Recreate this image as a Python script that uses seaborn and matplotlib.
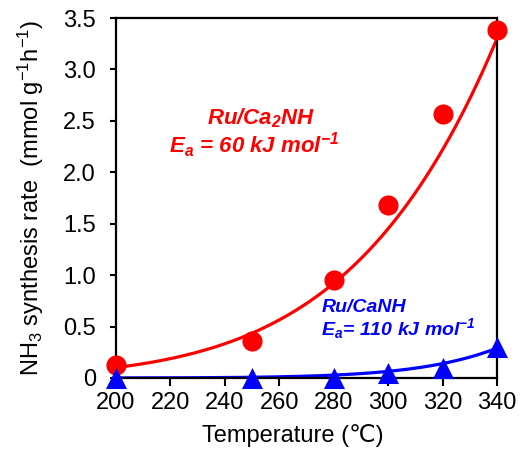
import numpy as np
import pandas as pd
import matplotlib
matplotlib.use("Agg")
import matplotlib.pyplot as plt
import seaborn as sns

# ---- data ----
temperature = [200, 250, 280, 300, 320, 340]
rate_ca2nh = [0.13, 0.36, 0.95, 1.68, 2.57, 3.38]
rate_canh = [0.0, 0.0, 0.0, 0.05, 0.10, 0.30]

# Arrhenius trend lines (activation energies as stated on the chart)
ea_ca2nh = 60.0   # kJ/mol
ea_canh = 110.0   # kJ/mol
trend_ca2nh_at_340 = 3.3
trend_canh_at_340 = 0.29

x_ticks = [200, 220, 240, 260, 280, 300, 320, 340]
y_ticks = [0, 0.5, 1.0, 1.5, 2.0, 2.5, 3.0, 3.5]
y_tick_labels = ["0", "0.5", "1.0", "1.5", "2.0", "2.5", "3.0", "3.5"]

sns.set_theme(style="ticks")
plt.rcParams["font.family"] = ["Liberation Sans", "DejaVu Sans"]
plt.rcParams["text.color"] = "black"
plt.rcParams["axes.labelcolor"] = "black"
plt.rcParams["xtick.color"] = "black"
plt.rcParams["ytick.color"] = "black"
plt.rcParams["mathtext.fontset"] = "custom"
plt.rcParams["mathtext.rm"] = "Liberation Sans"
plt.rcParams["mathtext.it"] = "Liberation Sans:italic"
plt.rcParams["mathtext.bf"] = "Liberation Sans:bold"
plt.rcParams["mathtext.bfit"] = "Liberation Sans:italic:bold"

R = 8.314e-3


def arrhenius(T, ea, ref_val, T_ref=340):
    T = np.asarray(T, dtype=float)
    return ref_val * np.exp(-ea / R * (1 / (T + 273.15) - 1 / (T_ref + 273.15)))


T_grid = np.linspace(min(temperature), max(temperature), 200)
curves = pd.DataFrame({
    "T": np.concatenate([T_grid, T_grid]),
    "rate": np.concatenate([arrhenius(T_grid, ea_ca2nh, trend_ca2nh_at_340),
                            arrhenius(T_grid, ea_canh, trend_canh_at_340)]),
    "cat": ["Ru/Ca2NH"] * len(T_grid) + ["Ru/CaNH"] * len(T_grid),
})
points = pd.DataFrame({
    "T": temperature * 2,
    "rate": rate_ca2nh + rate_canh,
    "cat": ["Ru/Ca2NH"] * len(temperature) + ["Ru/CaNH"] * len(temperature),
})

fig = plt.figure(figsize=(5.21, 4.51), dpi=100)
ax = fig.add_axes([0.2226, 0.1619, 0.9539 - 0.2226, 0.960 - 0.1619])

palette = {"Ru/Ca2NH": "#ff0000", "Ru/CaNH": "#0000ff"}

sns.lineplot(data=curves, x="T", y="rate", hue="cat", palette=palette,
             linewidth=2.3, legend=False, ax=ax, zorder=2)
sns.scatterplot(data=points[points["cat"] == "Ru/Ca2NH"], x="T", y="rate",
                color="#ff0000", marker="o", s=210, linewidth=0,
                legend=False, ax=ax, zorder=3, clip_on=False)
sns.scatterplot(data=points[points["cat"] == "Ru/CaNH"], x="T", y="rate",
                color="#0000ff", marker="^", s=230, linewidth=0,
                legend=False, ax=ax, zorder=4, clip_on=False)

ax.set_xlim(200, 340)
ax.set_ylim(0, 3.5)
ax.set_xticks(x_ticks)
ax.set_yticks(y_ticks)
ax.set_yticklabels(y_tick_labels)
ax.tick_params(axis="x", labelsize=17, width=1.5, length=6, direction="out",
               color="black", labelcolor="black", pad=4)
ax.tick_params(axis="y", labelsize=17, width=1.5, length=4.5, direction="out",
               color="black", labelcolor="black", pad=10)
for sp in ax.spines.values():
    sp.set_linewidth(1.6)
    sp.set_color("black")
    sp.set_visible(True)

ax.set_xlabel("Temperature (\u2103)", fontsize=17)
ax.xaxis.set_label_coords(0.465, -0.128)
ax.set_ylabel(r"NH$_3$ synthesis rate  (mmol g$^{-1}$h$^{-1}$)", fontsize=17,
              labelpad=12)

ax.text(253.3, 2.53, r"Ru/Ca$_{\mathbfit{2}}$NH",
        color="#ff0000", fontsize=16, fontweight="bold", style="italic",
        ha="center", va="center")
ax.text(250.7, 2.26, r"E$_{\mathbfit{a}}$ = 60 kJ mol$^{\mathbfit{-1}}$",
        color="#ff0000", fontsize=16, fontweight="bold", style="italic",
        ha="center", va="center")
ax.text(275.5, 0.69, r"Ru/CaNH",
        color="#0000ff", fontsize=14, fontweight="bold", style="italic",
        ha="left", va="center")
ax.text(275.5, 0.48, r"E$_{\mathbfit{a}}$= 110 kJ mol$^{\mathbfit{-1}}$",
        color="#0000ff", fontsize=14, fontweight="bold", style="italic",
        ha="left", va="center")

fig.savefig("out.png", dpi=100)
